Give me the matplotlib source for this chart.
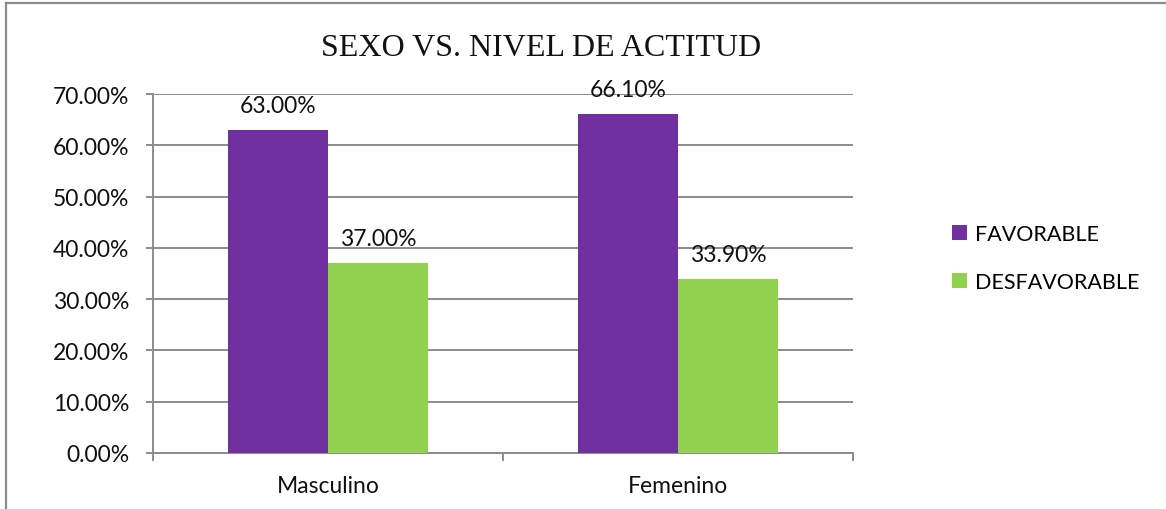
import numpy as np
import matplotlib.pyplot as plt
from matplotlib.lines import Line2D
from matplotlib.ticker import FuncFormatter, FixedLocator

categories = ["Masculino", "Femenino"]
favorable = [63.0, 66.1]
desfavorable = [37.0, 33.9]
series_names = ["FAVORABLE", "DESFAVORABLE"]
yticks = [0, 10, 20, 30, 40, 50, 60, 70]

W, H = 1166, 510
fig = plt.figure(figsize=(W / 100, H / 100), dpi=100)
ax = fig.add_axes([153 / W, (H - 454) / H, 700 / W, 359 / H])

lab_font = "Lato"
x = np.arange(len(categories))
bw = 100 / 350
b1 = ax.bar(x - bw / 2, favorable, bw, color="#7030A0", label=series_names[0], zorder=3)
b2 = ax.bar(x + bw / 2, desfavorable, bw, color="#92D050", label=series_names[1], zorder=3)

for bars, vals in ((b1, favorable), (b2, desfavorable)):
    for r, v in zip(bars, vals):
        ax.annotate(f"{v:.2f}%", (r.get_x() + r.get_width() / 2, v),
                    xytext=(0, 14), textcoords="offset pixels",
                    ha="center", va="bottom", fontsize=16.5, family=lab_font, color="#111111")

ax.set_xlim(-0.5, len(categories) - 0.5)
ax.set_ylim(0, 70)
ax.set_yticks(yticks)
ax.yaxis.set_major_formatter(FuncFormatter(lambda v, p: f"{v:.2f}%"))
ax.yaxis.grid(True, color="#8c8c8c", lw=1.4, zorder=0)
ax.set_xticks(x)
ax.set_xticklabels(categories)
ax.xaxis.set_minor_locator(FixedLocator(np.arange(-0.5, len(categories), 1.0)))
ax.tick_params(axis="x", which="major", length=0, pad=16)
ax.tick_params(axis="x", which="minor", length=5.5, width=1.4, color="#8c8c8c")
ax.tick_params(axis="y", length=5, width=1.4, color="#8c8c8c", pad=12)
for lbl in ax.get_xticklabels() + ax.get_yticklabels():
    lbl.set_family(lab_font)
    lbl.set_fontsize(16.5)
    lbl.set_color("#111111")
for s in ("top", "right"):
    ax.spines[s].set_visible(False)
for s in ("left", "bottom"):
    ax.spines[s].set_color("#8c8c8c")
    ax.spines[s].set_linewidth(1.4)

fig.text(541 / W, 1 - 49 / H, "SEXO VS. NIVEL DE ACTITUD", ha="center", va="center",
         family="Liberation Serif", fontsize=23, color="#111111")

leg = fig.legend(handles=[b1, b2], loc="center left", bbox_to_anchor=(933 / W, 1 - 259 / H),
                 frameon=False, prop={"family": lab_font, "size": 15.5},
                 handlelength=0.7, handleheight=0.7, handletextpad=0.35, labelspacing=1.3)

# marco del gráfico
fig.add_artist(Line2D([5.5 / W, 5.5 / W], [0, 1 - 3.5 / H], color="#8c8c8c", lw=1.6))
fig.add_artist(Line2D([5.5 / W, 1], [1 - 3.5 / H, 1 - 3.5 / H], color="#8c8c8c", lw=1.6))

fig.savefig("out.png", dpi=100)
